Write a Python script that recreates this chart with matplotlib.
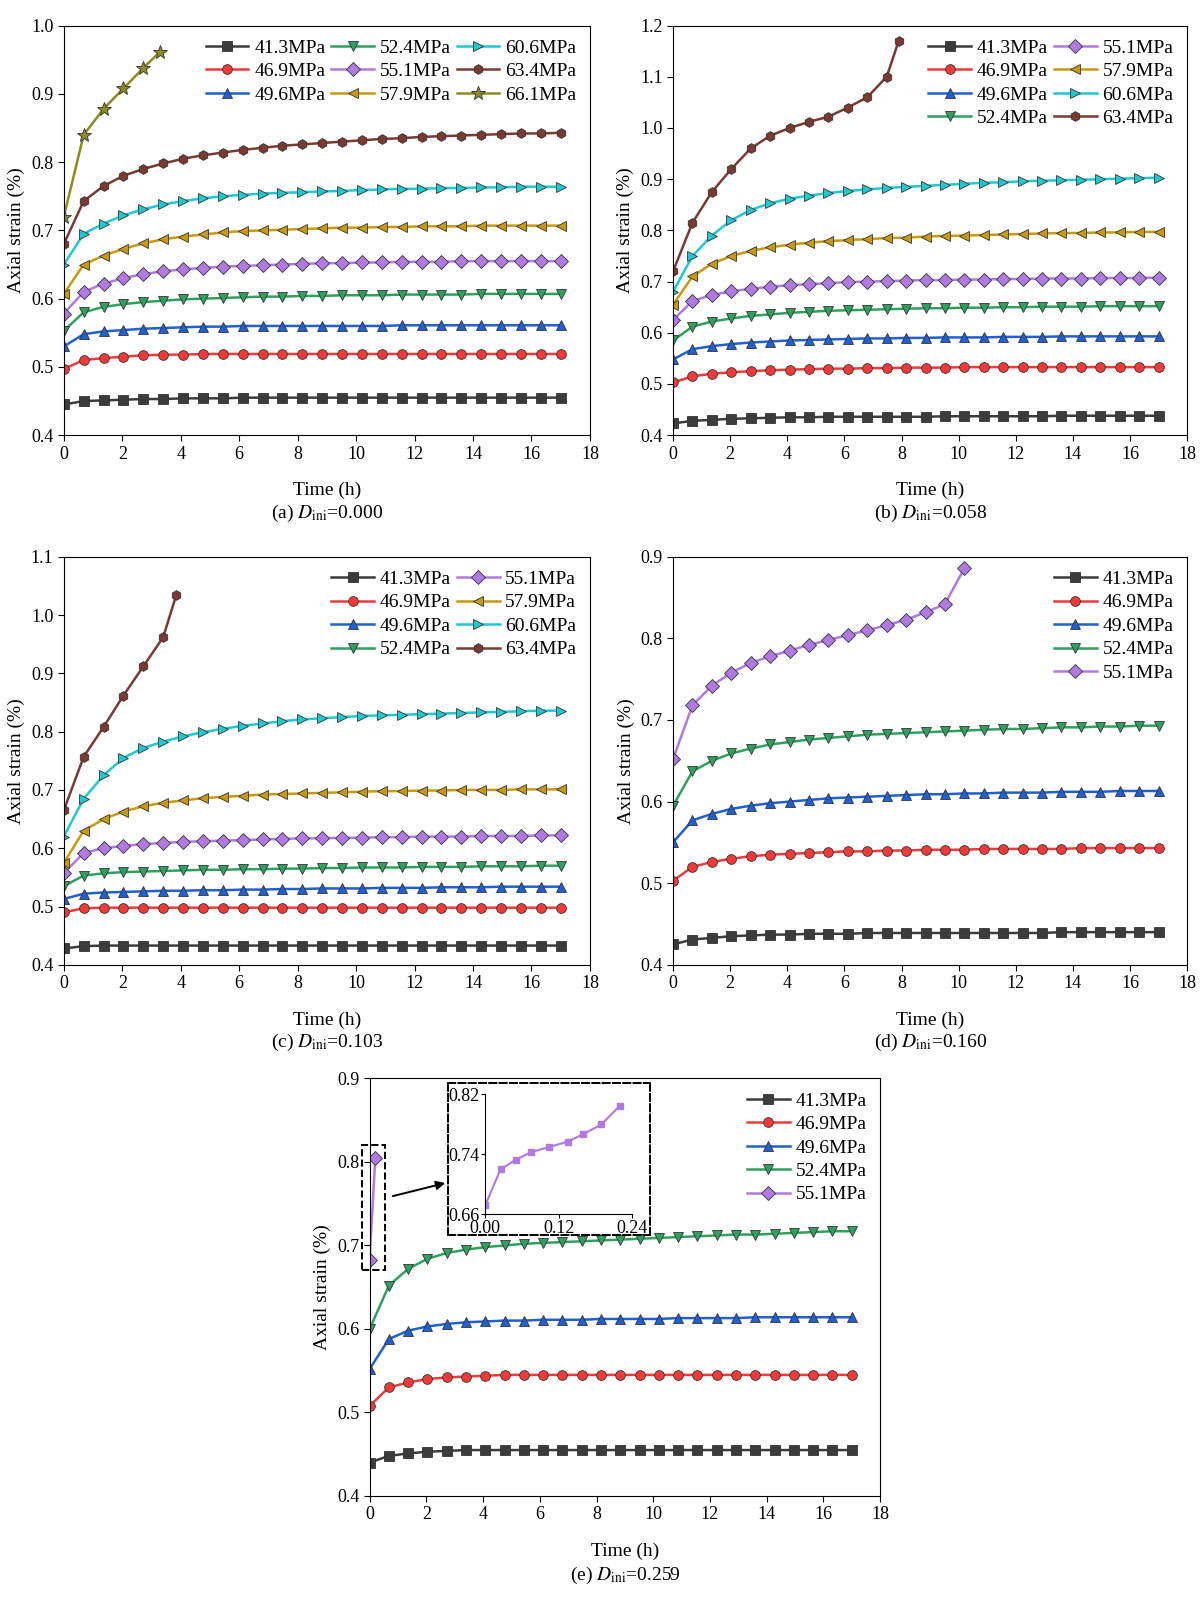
"""
Creep curves (axial strain vs time) for five initial damage levels
"""
import matplotlib
matplotlib.use("Agg")
import matplotlib.pyplot as plt
import numpy as np
from matplotlib.patches import Rectangle

plt.rcParams['font.family'] = ['Liberation Serif', 'DejaVu Serif']
plt.rcParams['mathtext.fontset'] = 'stix'
plt.rcParams['font.size'] = 13

# common time grid (h), 26 points
T = [round(0.68 * k, 2) for k in range(26)]

STYLE = {
    '41.3MPa': ('#3c3c3c', 's'),
    '46.9MPa': ('#f03a3a', 'o'),
    '49.6MPa': ('#2060d0', '^'),
    '52.4MPa': ('#30a060', 'v'),
    '55.1MPa': ('#b07ae0', 'D'),
    '57.9MPa': ('#c89a10', '<'),
    '60.6MPa': ('#20c8d0', '>'),
    '63.4MPa': ('#7a3a32', 'h'),
    '66.1MPa': ('#8c8c20', '*'),
}

# (a) D_ini = 0.000
a_413 = [0.445, 0.450, 0.451, 0.452, 0.453, 0.453, 0.454, 0.454, 0.454] + [0.455] * 17
a_469 = [0.497, 0.510, 0.513, 0.515, 0.517, 0.518, 0.518] + [0.519] * 19
a_496 = [0.530, 0.548, 0.552, 0.554, 0.556, 0.557, 0.558, 0.559, 0.559] + [0.560] * 8 + [0.561] * 9
a_524 = [0.553, 0.580, 0.588, 0.592, 0.595, 0.597, 0.599, 0.600, 0.601, 0.602, 0.603, 0.603, 0.604,
         0.604, 0.605, 0.605, 0.605, 0.606, 0.606, 0.606, 0.606, 0.607, 0.607, 0.607, 0.607, 0.607]
a_551 = [0.578, 0.610, 0.622, 0.630, 0.636, 0.640, 0.643, 0.645, 0.647, 0.648, 0.649, 0.650, 0.651,
         0.652, 0.652, 0.653, 0.653, 0.654, 0.654, 0.654, 0.655, 0.655, 0.655, 0.655, 0.655, 0.655]
a_579 = [0.607, 0.650, 0.663, 0.673, 0.681, 0.687, 0.691, 0.694, 0.697, 0.699, 0.700, 0.701, 0.702,
         0.703, 0.704, 0.704, 0.705, 0.705, 0.706, 0.706, 0.706, 0.707, 0.707, 0.707, 0.707, 0.707]
a_606 = [0.650, 0.695, 0.710, 0.722, 0.731, 0.738, 0.743, 0.747, 0.750, 0.752, 0.754, 0.755, 0.756,
         0.757, 0.758, 0.759, 0.760, 0.761, 0.761, 0.762, 0.762, 0.763, 0.763, 0.764, 0.764, 0.764]
a_634 = [0.680, 0.743, 0.765, 0.780, 0.790, 0.798, 0.805, 0.810, 0.814, 0.818, 0.821, 0.824, 0.826,
         0.828, 0.830, 0.832, 0.834, 0.835, 0.837, 0.838, 0.839, 0.840, 0.841, 0.842, 0.842, 0.843]
a_661_t = [0, 0.68, 1.36, 2.04, 2.72, 3.3]
a_661 = [0.720, 0.840, 0.878, 0.908, 0.938, 0.962]

# (b) D_ini = 0.058
b_413 = [0.423, 0.428, 0.430, 0.432, 0.433, 0.434, 0.435, 0.435] + [0.436] * 6 + [0.437] * 6 + [0.438] * 6
b_469 = [0.503, 0.515, 0.520, 0.523, 0.525, 0.527, 0.528, 0.529, 0.530, 0.530, 0.531, 0.531,
         0.532, 0.532, 0.532] + [0.533] * 11
b_496 = [0.548, 0.568, 0.574, 0.578, 0.581, 0.583, 0.585, 0.586, 0.587, 0.588, 0.589, 0.589, 0.590,
         0.590, 0.591, 0.591, 0.591, 0.592, 0.592, 0.592, 0.593, 0.593, 0.593, 0.593, 0.593, 0.593]
b_524 = [0.585, 0.612, 0.622, 0.628, 0.633, 0.636, 0.639, 0.641, 0.643, 0.644, 0.645, 0.646, 0.647,
         0.648, 0.648, 0.649, 0.649, 0.650, 0.650, 0.651, 0.651, 0.651, 0.652, 0.652, 0.652, 0.652]
b_551 = [0.625, 0.662, 0.674, 0.681, 0.686, 0.690, 0.693, 0.695, 0.697, 0.699, 0.700, 0.701, 0.702,
         0.703, 0.703, 0.704, 0.704, 0.705, 0.705, 0.706, 0.706, 0.706, 0.707, 0.707, 0.707, 0.708]
b_579 = [0.655, 0.710, 0.735, 0.750, 0.760, 0.767, 0.772, 0.776, 0.779, 0.781, 0.783, 0.785, 0.786,
         0.788, 0.789, 0.790, 0.791, 0.792, 0.793, 0.794, 0.795, 0.795, 0.796, 0.796, 0.797, 0.797]
b_606 = [0.680, 0.750, 0.790, 0.820, 0.840, 0.853, 0.862, 0.868, 0.873, 0.877, 0.880, 0.883, 0.885,
         0.887, 0.889, 0.891, 0.893, 0.894, 0.896, 0.897, 0.898, 0.899, 0.900, 0.901, 0.902, 0.903]
b_634_t = [0, 0.68, 1.36, 2.04, 2.72, 3.4, 4.08, 4.76, 5.44, 6.12, 6.8, 7.48, 7.9]
b_634 = [0.720, 0.815, 0.875, 0.920, 0.960, 0.985, 1.000, 1.012, 1.022, 1.040, 1.060, 1.100, 1.170]

# (c) D_ini = 0.103
c_413 = [0.428, 0.432] + [0.433] * 24
c_469 = [0.490, 0.497] + [0.498] * 24
c_496 = [0.513, 0.522, 0.524, 0.525, 0.526, 0.527, 0.527, 0.528, 0.528, 0.529, 0.529, 0.530, 0.530,
         0.531, 0.531, 0.531, 0.532, 0.532, 0.532, 0.533, 0.533, 0.533, 0.534, 0.534, 0.534, 0.534]
c_524 = [0.535, 0.553, 0.557, 0.559, 0.560, 0.561, 0.562, 0.563, 0.563, 0.564, 0.564, 0.565, 0.565,
         0.566, 0.566, 0.567, 0.567, 0.567, 0.568, 0.568, 0.568, 0.569, 0.569, 0.569, 0.570, 0.570]
c_551 = [0.557, 0.592, 0.600, 0.604, 0.607, 0.609, 0.611, 0.612, 0.613, 0.614, 0.615, 0.616, 0.617,
         0.617, 0.618, 0.618, 0.619, 0.619, 0.620, 0.620, 0.620, 0.621, 0.621, 0.621, 0.622, 0.622]
c_579 = [0.575, 0.630, 0.650, 0.663, 0.672, 0.678, 0.682, 0.686, 0.688, 0.690, 0.692, 0.693, 0.694,
         0.695, 0.696, 0.697, 0.698, 0.698, 0.699, 0.699, 0.700, 0.700, 0.700, 0.701, 0.701, 0.701]
c_606 = [0.620, 0.685, 0.725, 0.755, 0.772, 0.783, 0.792, 0.799, 0.805, 0.810, 0.814, 0.818, 0.821,
         0.823, 0.825, 0.827, 0.828, 0.829, 0.830, 0.831, 0.832, 0.833, 0.834, 0.835, 0.836, 0.836]
c_634_t = [0, 0.68, 1.36, 2.04, 2.72, 3.4, 3.85]
c_634 = [0.665, 0.757, 0.808, 0.862, 0.912, 0.962, 1.035]

# (d) D_ini = 0.160
d_413 = [0.425, 0.431, 0.433, 0.435, 0.436, 0.437, 0.437, 0.438, 0.438, 0.438] + [0.439] * 10 + [0.440] * 6
d_469 = [0.503, 0.520, 0.526, 0.530, 0.533, 0.535, 0.536, 0.537, 0.538, 0.539, 0.539, 0.540, 0.540,
         0.541, 0.541, 0.541, 0.542, 0.542, 0.542, 0.542, 0.542, 0.543, 0.543, 0.543, 0.543, 0.543]
d_496 = [0.550, 0.577, 0.585, 0.591, 0.595, 0.598, 0.600, 0.602, 0.604, 0.605, 0.606, 0.607, 0.608,
         0.609, 0.609, 0.610, 0.610, 0.611, 0.611, 0.611, 0.612, 0.612, 0.612, 0.613, 0.613, 0.613]
d_524 = [0.595, 0.637, 0.650, 0.659, 0.665, 0.670, 0.673, 0.676, 0.678, 0.680, 0.682, 0.683, 0.684,
         0.685, 0.686, 0.687, 0.688, 0.689, 0.689, 0.690, 0.691, 0.691, 0.692, 0.692, 0.693, 0.693]
d_551_t = T[:15] + [10.2]
d_551 = [0.652, 0.718, 0.742, 0.758, 0.770, 0.778, 0.785, 0.792, 0.798, 0.804, 0.810, 0.816, 0.823,
         0.832, 0.842, 0.886]

# (e) D_ini = 0.259
e_413 = [0.440, 0.448, 0.451, 0.453, 0.454] + [0.455] * 21
e_469 = [0.508, 0.530, 0.536, 0.540, 0.542, 0.543, 0.544] + [0.545] * 19
e_496 = [0.552, 0.588, 0.598, 0.603, 0.606, 0.608, 0.609, 0.610, 0.610, 0.611, 0.611, 0.611, 0.612,
         0.612, 0.612, 0.612, 0.613, 0.613, 0.613, 0.613, 0.614, 0.614, 0.614, 0.614, 0.614, 0.614]
e_524 = [0.600, 0.652, 0.672, 0.684, 0.691, 0.695, 0.698, 0.700, 0.702, 0.703, 0.704, 0.705, 0.706,
         0.707, 0.708, 0.709, 0.710, 0.711, 0.712, 0.713, 0.713, 0.714, 0.715, 0.716, 0.717, 0.717]
e_551_t = [0.0, 0.2]
e_551 = [0.683, 0.805]
inset_t = [0, 0.025, 0.05, 0.075, 0.105, 0.135, 0.16, 0.19, 0.22]
inset_v = [0.672, 0.720, 0.733, 0.743, 0.750, 0.757, 0.767, 0.780, 0.805]

PANELS = [
    dict(rect=[0.053, 0.728, 0.437, 0.256], ylim=(0.4, 1.0), yticks=np.arange(0.4, 1.01, 0.1),
         ncol=3, cap="(a) ", val="=0.000",
         series=[('41.3MPa', T, a_413), ('46.9MPa', T, a_469), ('49.6MPa', T, a_496),
                 ('52.4MPa', T, a_524), ('55.1MPa', T, a_551), ('57.9MPa', T, a_579),
                 ('60.6MPa', T, a_606), ('63.4MPa', T, a_634), ('66.1MPa', a_661_t, a_661)]),
    dict(rect=[0.559, 0.728, 0.427, 0.256], ylim=(0.4, 1.2), yticks=np.arange(0.4, 1.21, 0.1),
         ncol=2, cap="(b) ", val="=0.058",
         series=[('41.3MPa', T, b_413), ('46.9MPa', T, b_469), ('49.6MPa', T, b_496),
                 ('52.4MPa', T, b_524), ('55.1MPa', T, b_551), ('57.9MPa', T, b_579),
                 ('60.6MPa', T, b_606), ('63.4MPa', b_634_t, b_634)]),
    dict(rect=[0.053, 0.397, 0.437, 0.255], ylim=(0.4, 1.1), yticks=np.arange(0.4, 1.11, 0.1),
         ncol=2, cap="(c) ", val="=0.103",
         series=[('41.3MPa', T, c_413), ('46.9MPa', T, c_469), ('49.6MPa', T, c_496),
                 ('52.4MPa', T, c_524), ('55.1MPa', T, c_551), ('57.9MPa', T, c_579),
                 ('60.6MPa', T, c_606), ('63.4MPa', c_634_t, c_634)]),
    dict(rect=[0.559, 0.397, 0.427, 0.255], ylim=(0.4, 0.9), yticks=np.arange(0.4, 0.91, 0.1),
         ncol=1, cap="(d) ", val="=0.160",
         series=[('41.3MPa', T, d_413), ('46.9MPa', T, d_469), ('49.6MPa', T, d_496),
                 ('52.4MPa', T, d_524), ('55.1MPa', d_551_t, d_551)]),
    dict(rect=[0.307, 0.065, 0.424, 0.261], ylim=(0.4, 0.9), yticks=np.arange(0.4, 0.91, 0.1),
         ncol=1, cap="(e) ", val="=0.259",
         series=[('41.3MPa', T, e_413), ('46.9MPa', T, e_469), ('49.6MPa', T, e_496),
                 ('52.4MPa', T, e_524), ('55.1MPa', e_551_t, e_551)]),
]


def draw_panel(fig, panel):
    ax = fig.add_axes(panel['rect'])
    for name, t, v in panel['series']:
        color, marker = STYLE[name]
        ax.plot(t, v, color=color, marker=marker, lw=1.8, ms=7 if marker != '*' else 10,
                mec='#333333', mew=0.6, label=name)
    ax.set_xlim(0, 18)
    ax.set_xticks(np.arange(0, 19, 2))
    ax.set_ylim(*panel['ylim'])
    ax.set_yticks(panel['yticks'])
    ax.set_yticklabels([f"{y:.1f}" for y in panel['yticks']])
    ax.tick_params(direction='out', length=4, labelsize=13)
    ax.set_xlabel("Time (h)", fontsize=14, labelpad=14)
    ax.set_ylabel("Axial strain (%)", fontsize=14)
    ax.legend(loc='upper right', ncol=panel['ncol'], frameon=False, fontsize=14,
              columnspacing=0.3, handlelength=2.2, handletextpad=0.3, labelspacing=0.3,
              borderaxespad=0.3)
    ax.text(0.5, -0.19, panel['cap'] + r"$D_{\mathrm{ini}}$" + panel['val'],
            transform=ax.transAxes, ha='center', va='center', fontsize=14)
    return ax


fig = plt.figure(figsize=(12.04, 16), dpi=100)
axes = [draw_panel(fig, p) for p in PANELS]

# inset for panel (e)
ax_e = axes[4]
ax_e.add_patch(Rectangle((-0.28, 0.67), 0.81, 0.15, fill=False, ls='--', lw=1.4, color='k',
                         clip_on=False))
box_ax = fig.add_axes([0.372, 0.228, 0.168, 0.095])
box_ax.set_xticks([])
box_ax.set_yticks([])
box_ax.patch.set_alpha(0)
for s in box_ax.spines.values():
    s.set_linestyle('--')
    s.set_linewidth(1.4)
ins = fig.add_axes([0.403, 0.241, 0.122, 0.075])
ins.patch.set_alpha(0)
ins.plot(inset_t, inset_v, color=STYLE['55.1MPa'][0], marker='s', ms=5, lw=1.5)
ins.set_xlim(0, 0.24)
ins.set_ylim(0.66, 0.82)
ins.set_xticks([0, 0.12, 0.24])
ins.set_xticklabels(["0.00", "0.12", "0.24"])
ins.set_yticks([0.66, 0.74, 0.82])
ins.spines['top'].set_visible(False)
ins.spines['right'].set_visible(False)
ins.tick_params(labelsize=13, length=3, pad=1)
fig.add_artist(plt.Annotation("", xy=(0.372, 0.261), xytext=(0.324, 0.252),
                              xycoords='figure fraction', textcoords='figure fraction',
                              arrowprops=dict(arrowstyle='-|>', color='k', lw=1.4)))

fig.savefig("out.png", dpi=100)
